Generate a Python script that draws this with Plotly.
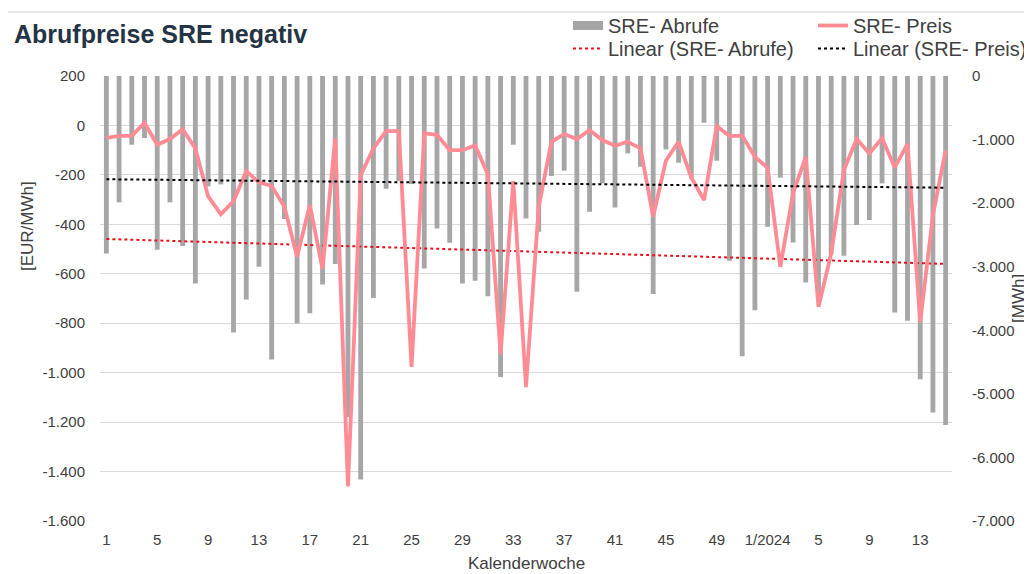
import numpy as np
import plotly.graph_objects as go

# ---------------- data ----------------
weeks = [str(i) for i in range(1, 53)] + ["1/2024"] + [str(i) for i in range(2, 16)]

abrufe_mwh = [
    -2791, -1988, -1081, -976, -2734, -1988, -2676, -3264, -1737, -1705,
    -4035, -3515, -3001, -4460, -2251, -3893, -3731, -3279, -2959, -5363,
    -6349, -3494, -1774, -1650, -1700, -3027, -2398, -2624, -3264, -3222,
    -3463, -4733, -1081, -2240, -2450, -1574, -1490, -3395, -2136, -1689,
    -2067, -1217, -1427, -3431, -1154, -1364, -1611, -735, -1333, -2907,
    -4407, -3683,
    -2372, -1600, -2618, -3248, -3500, -2800, -2828, -2345, -2267, -1689,
    -3720, -3851, -4770, -5294, -5488,
]

preis_eur = [
    -50, -42, -42, 10, -78, -55, -15, -93, -286, -359,
    -306, -185, -230, -245, -329, -531, -322, -581, -52, -1460,
    -201, -93, -23, -23, -977, -32, -38, -100, -100, -81,
    -197, -925, -225, -1058, -329, -66, -35, -55, -19, -59,
    -82, -66, -93, -369, -143, -66, -210, -302, -2, -43,
    -41, -127,
    -171, -572, -275, -127, -734, -518, -180, -55, -113, -52,
    -170, -75, -795, -363, -100,
]

left_ticks = [200, 0, -200, -400, -600, -800, -1000, -1200, -1400, -1600]
right_ticks = [0, -1000, -2000, -3000, -4000, -5000, -6000, -7000]


def fmt(v):
    return f"{v:,}".replace(",", ".")


x = list(range(len(weeks)))
xtick_idx = list(range(0, len(weeks), 4))
xbound_ticks = [i - 0.5 for i in range(0, len(weeks) + 1, 4)]

# linear trend lines (as Excel's "Linear" trendline)
ka, kb = np.polyfit(x, abrufe_mwh, 1)
trend_abrufe = [ka * i + kb for i in x]
pa, pb = np.polyfit(x, preis_eur, 1)
trend_preis = [pa * i + pb for i in x]

# ---------------- layout geometry ----------------
# the page body has an 8px margin, so the figure is drawn 8px right/down;
# geometry below is given in page pixels and converted to figure pixels.
OFF = 8
W, H = 1032 - OFF, 574 - OFF
L, R, T, B = 100 - OFF, 952 - OFF, 76 - OFF, 521 - OFF
PW, PH = R - L, B - T


def px(xpage):
    return (xpage - OFF - L) / PW


def py(ypage):
    return (B - (ypage - OFF)) / PH


FONT = "Liberation Sans, Arial, sans-serif"
TXT = "#404040"

fig = go.Figure()

fig.add_trace(go.Bar(
    x=x, y=abrufe_mwh, yaxis="y", name="SRE- Abrufe",
    marker=dict(color="#A6A6A6", line=dict(width=0)),
    showlegend=False, hoverinfo="y",
))
fig.add_trace(go.Scatter(
    x=x, y=trend_abrufe, yaxis="y", mode="lines",
    name="Linear (SRE- Abrufe)", legend="legend2",
    line=dict(color="#E8101A", width=2, dash="dot"),
))
# legend proxy for the bars (wide bar symbol as in the original)
fig.add_trace(go.Scatter(
    x=[None], y=[None], yaxis="y", mode="lines", name="SRE- Abrufe",
    legend="legend", line=dict(color="#A6A6A6", width=9),
))
fig.add_trace(go.Scatter(
    x=x, y=preis_eur, yaxis="y2", mode="lines", name="SRE- Preis",
    legend="legend", line=dict(color="#FF8C94", width=3.8),
))
fig.add_trace(go.Scatter(
    x=x, y=trend_preis, yaxis="y2", mode="lines",
    name="Linear (SRE- Preis)", legend="legend2",
    line=dict(color="#000000", width=2, dash="dot"),
))

fig.update_layout(
    width=W, height=H,
    margin=dict(l=L, r=W - R, t=T, b=H - B, pad=0, autoexpand=False),
    paper_bgcolor="white", plot_bgcolor="white",
    font=dict(family=FONT, color=TXT, size=15),
    bargap=0.62,
    title=dict(
        text="<b>Abrufpreise SRE negativ</b>",
        x=(14 - OFF) / W, xanchor="left", xref="container",
        y=1 - (34 - OFF) / H, yanchor="middle", yref="container",
        font=dict(family=FONT, size=25, color="#243444"),
    ),
    xaxis=dict(
        range=[-0.5, len(weeks) - 0.5],
        tickvals=xtick_idx, ticktext=[weeks[i] for i in xtick_idx],
        showgrid=False, zeroline=False, showline=False,
        ticks="", ticklabelstandoff=8,
        tickfont=dict(size=15, color=TXT),
    ),
    # category-axis tick marks hanging from the 0 line (Excel axis crossing)
    xaxis2=dict(
        overlaying="x", anchor="free", position=py(125), side="bottom",
        range=[-0.5, len(weeks) - 0.5], tickvals=xbound_ticks,
        showticklabels=False, ticks="outside", ticklen=5, tickwidth=1,
        tickcolor="#BFBFBF", showgrid=False, zeroline=False, showline=False,
    ),
    yaxis=dict(
        side="right", range=[-7000, 0],
        tickvals=right_ticks, ticktext=[fmt(v) for v in right_ticks],
        showgrid=False, zeroline=False, showline=False,
        ticks="", ticklabelstandoff=19,
        tickfont=dict(size=15, color=TXT),
    ),
    yaxis2=dict(
        side="left", overlaying="y", range=[-1600, 200],
        tickvals=left_ticks, ticktext=[fmt(v) for v in left_ticks],
        showgrid=True, gridcolor="#D9D9D9", gridwidth=1,
        zeroline=False, showline=False,
        ticks="", ticklabelstandoff=14,
        tickfont=dict(size=15, color=TXT),
    ),
    legend=dict(
        orientation="h", x=px(568), xanchor="left", y=py(6), yanchor="top",
        entrywidthmode="pixels", entrywidth=200,
        font=dict(size=20, color=TXT), bgcolor="rgba(0,0,0,0)",
        itemclick=False, tracegroupgap=0,
    ),
    legend2=dict(
        orientation="h", x=px(568), xanchor="left", y=py(29), yanchor="top",
        entrywidthmode="pixels", entrywidth=200,
        font=dict(size=20, color=TXT), bgcolor="rgba(0,0,0,0)",
        itemclick=False, tracegroupgap=0,
    ),
    annotations=[
        dict(text="[EUR/MWh]", xref="paper", yref="paper", x=px(27), y=py(226),
             textangle=-90, showarrow=False, font=dict(size=17, color=TXT),
             xanchor="center", yanchor="middle"),
        dict(text="[MWh]", xref="paper", yref="paper", x=px(1018), y=py(298),
             textangle=-90, showarrow=False, font=dict(size=17, color=TXT),
             xanchor="center", yanchor="middle"),
        dict(text="Kalenderwoche", xref="paper", yref="paper", x=px(526), y=py(563),
             showarrow=False, font=dict(size=17, color=TXT),
             xanchor="center", yanchor="middle"),
    ],
    shapes=[
        dict(type="line", xref="paper", yref="paper",
             x0=px(8), x1=px(1040), y0=py(12), y1=py(12),
             line=dict(color="#D0D0D0", width=1), layer="below"),
    ],
    showlegend=True,
)

fig.write_html("out.html")
